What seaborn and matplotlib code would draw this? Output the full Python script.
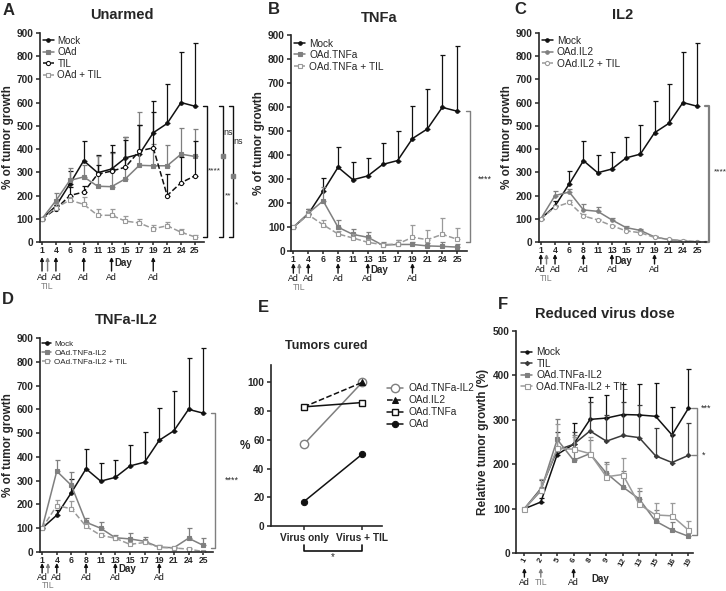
import numpy as np
import matplotlib
matplotlib.use("Agg")
import matplotlib.pyplot as plt
import seaborn as sns

sns.set_style("ticks")
plt.rcParams["font.family"] = ["Liberation Sans", "DejaVu Sans"]

# ---- data ----
days = [1, 4, 6, 8, 11, 13, 15, 17, 19, 21, 24, 25]
mock_mean = [100, 155, 250, 350, 298, 314, 362, 378, 470, 510, 600, 584]
mock_top = [100, 176, 305, 435, 373, 387, 452, 503, 605, 678, 817, 857]

oad_mean = [100, 178, 265, 280, 240, 238, 272, 330, 328, 328, 378, 368]
oad_top = [100, 210, 320, 330, 370, 385, 450, 560, 420, 418, 490, 485]
til_mean = [100, 142, 200, 215, 292, 305, 322, 392, 405, 200, 255, 285]
til_top = [100, 160, 235, 240, 330, 418, 440, 505, 560, 292, 367, 435]
oadtil_mean = [100, 148, 180, 162, 115, 115, 90, 82, 57, 70, 42, 22]
oadtil_top = [100, 165, 195, 195, 140, 140, 112, 98, 72, 85, 55, 30]

tnfa_mean = [100, 158, 210, 100, 70, 58, 25, 28, 28, 22, 20, 17]
tnfa_top = [100, 178, 268, 128, 92, 80, 40, 45, 40, 35, 38, 32]
tnfatil_mean = [100, 152, 110, 72, 55, 37, 27, 30, 58, 48, 70, 50]
tnfatil_top = [100, 168, 128, 85, 70, 50, 35, 45, 110, 88, 138, 98]

il2_mean = [100, 200, 215, 138, 132, 95, 62, 50, 22, 10, 5, 0]
il2_top = [100, 220, 228, 165, 152, 105, 70, 58, 28, 15, 8, 2]
il2til_mean = [100, 150, 170, 112, 95, 70, 48, 40, 20, 12, 5, 2]
il2til_top = [100, 160, 180, 120, 100, 75, 52, 45, 25, 15, 8, 4]

combo_mean = [100, 340, 280, 125, 100, 60, 55, 45, 20, 18, 58, 28]
combo_top = [100, 385, 335, 145, 125, 72, 82, 65, 28, 22, 100, 58]
combotil_mean = [100, 195, 182, 108, 70, 58, 32, 40, 20, 17, 12, 2]
combotil_top = [100, 220, 215, 120, 78, 65, 36, 48, 25, 22, 15, 5]

groups = ["Virus only", "Virus + TIL"]
cured_combo = [57, 100]
cured_il2 = [83, 100]
cured_tnfa = [83, 86]
cured_oad = [17, 50]

f_days = [1, 2, 5, 6, 8, 9, 12, 13, 15, 16, 19]
f_mock_mean = [100, 115, 222, 245, 301, 304, 312, 311, 308, 266, 326]
f_mock_top = [100, 125, 240, 292, 352, 356, 380, 380, 382, 330, 414]
f_til_mean = [100, 145, 232, 245, 275, 252, 265, 260, 219, 204, 220]
f_til_top = [100, 165, 272, 272, 340, 310, 340, 333, 282, 268, 293]
f_combo_mean = [100, 140, 256, 209, 224, 180, 149, 122, 72, 52, 38]
f_combo_top = [100, 150, 303, 265, 255, 205, 185, 140, 97, 70, 48]
f_combotil_mean = [100, 143, 236, 234, 224, 172, 177, 110, 86, 84, 52]
f_combotil_top = [100, 168, 290, 262, 262, 200, 215, 147, 112, 112, 72]

BLACK = "#111111"
GRAY = "#7f7f7f"
LGRAY = "#9a9a9a"
H = 591.0

fig = plt.figure(figsize=(7.26, 5.91), dpi=100)


def style_axes(ax):
    sns.despine(ax=ax)
    for s in ("left", "bottom"):
        ax.spines[s].set_linewidth(1.2)
    ax.tick_params(axis="y", width=1.1, length=3, pad=1.5)
    ax.tick_params(axis="x", width=1.1, length=2, pad=0.8)
    for t in ax.get_yticklabels() + ax.get_xticklabels():
        t.set_fontweight("bold")


def series(ax, x, mean, top, label, color, ls="-", marker="s", mfc=None, ms=3.2):
    mean = np.asarray(mean, float)
    top = np.asarray(top, float)
    ax.errorbar(x, mean, yerr=[np.zeros_like(mean), top - mean], fmt="none",
                ecolor=color, elinewidth=0.9, capsize=1.8, capthick=0.9)
    sns.lineplot(x=x, y=mean, ax=ax, color=color, linestyle=ls, linewidth=1.1,
                 marker=marker, markersize=ms, markeredgewidth=0.8,
                 markerfacecolor=color if mfc is None else mfc,
                 markeredgecolor=color, label=label)


def arrow(ax, xpos, label, color, tip, tail, text_px):
    # offsets are pixels below the x axis
    hpx = ax.get_position().height * H
    tr = ax.get_xaxis_transform()
    ax.annotate("", xy=(xpos, -tip / hpx), xytext=(xpos, -tail / hpx),
                xycoords=tr, textcoords=tr, annotation_clip=False,
                arrowprops=dict(arrowstyle="-|>", color=color, lw=1.0,
                                mutation_scale=5, shrinkA=0, shrinkB=0))
    ax.text(xpos, -text_px / hpx, label, transform=tr, ha="center",
            va="center", fontsize=6.3, color=color)


def day_label(ax, xpos, px, ha="left"):
    hpx = ax.get_position().height * H
    ax.text(xpos, -px / hpx, "Day", transform=ax.get_xaxis_transform(),
            fontsize=7, fontweight="bold", va="center", ha=ha)


def growth_axes(rect, title, lines, legend_fs=7, offs=(12, 22, 27, 36), day_px=19):
    ax = fig.add_axes(rect)
    x = np.arange(len(days))
    for args in lines:
        series(ax, x, *args)
    ax.set_xlim(-0.15, 11.65)
    ax.set_ylim(0, 900)
    ax.set_yticks(range(0, 901, 100))
    ax.set_xticks(x)
    ax.set_xticklabels([str(d) for d in days], fontsize=6.2)
    ax.tick_params(axis="y", labelsize=7.3)
    ax.set_xlabel("")
    ax.set_ylabel("% of tumor growth", fontsize=8.5, fontweight="bold", labelpad=2)
    ax.set_title(title, fontsize=10.5, fontweight="bold", pad=10)
    ax.legend(loc="upper left", frameon=False, fontsize=legend_fs,
              handlelength=1.1, handletextpad=0.4, labelspacing=0.15,
              borderaxespad=0.1, borderpad=0.2)
    style_axes(ax)
    tip, tail, ad_y, til_y = offs
    for i in (0, 1, 3, 5, 8):
        arrow(ax, i, "Ad", BLACK, tip, tail, ad_y)
    arrow(ax, 0.4, "TIL", GRAY, tip, tail, til_y)
    day_label(ax, 5.2, day_px)
    return ax


def bracket(ax, xf, y0, y1, color=BLACK, mids=(), lw=1.0):
    tr = ax.get_yaxis_transform()
    w = 0.025
    ax.plot([xf - w, xf, xf, xf - w], [y0, y0, y1, y1], color=color, lw=lw,
            transform=tr, clip_on=False)
    for m in mids:
        ax.plot([xf], [m], marker="s", ms=2.2, color=GRAY, transform=tr,
                clip_on=False)


def star(ax, xf, y, s, fs=6.5):
    ax.text(xf, y, s, transform=ax.get_yaxis_transform(), fontsize=fs,
            va="center", ha="left")


# ---- A ----
axA = growth_axes([0.055, 0.5905, 0.226, 0.354], "Unarmed", [
    (mock_mean, mock_top, "Mock", BLACK, "-", "o", None, 2.5),
    (oad_mean, oad_top, "OAd", GRAY, "-", "s", None, 2.8),
    (til_mean, til_top, "TIL", BLACK, "--", "o", "white", 3.0),
    (oadtil_mean, oadtil_top, "OAd + TIL", LGRAY, "--", "s", "white", 3.0),
], offs=(15, 29, 35, 44), day_px=21)
bracket(axA, 1.018, mock_mean[-1], oadtil_mean[-1])
bracket(axA, 1.116, mock_mean[-1], oadtil_mean[-1], mids=[oad_mean[-1]])
bracket(axA, 1.177, mock_mean[-1], oadtil_mean[-1], mids=[til_mean[-1]])
star(axA, 1.025, 305, "****", fs=6)
star(axA, 1.12, 470, "ns", fs=6.5)
star(axA, 1.125, 197, "**", fs=6)
star(axA, 1.182, 433, "ns", fs=6.5)
star(axA, 1.19, 161, "*", fs=6)

# ---- B ----
axB = growth_axes([0.401, 0.575, 0.242, 0.365], "TNFa", [
    (mock_mean, mock_top, "Mock", BLACK, "-", "o", None, 2.5),
    (tnfa_mean, tnfa_top, "OAd.TNFa", GRAY, "-", "s", None, 2.5),
    (tnfatil_mean, tnfatil_top, "OAd.TNFa + TIL", LGRAY, "--", "s", "white", 3.0),
], legend_fs=7.3)
bracket(axB, 1.02, mock_mean[-1], 38, color=GRAY)
star(axB, 1.06, 300, "****")

# ---- C ----
axC = growth_axes([0.742, 0.5905, 0.231, 0.354], "IL2", [
    (mock_mean, mock_top, "Mock", BLACK, "-", "o", None, 2.5),
    (il2_mean, il2_top, "OAd.IL2", GRAY, "-", "o", None, 2.5),
    (il2til_mean, il2til_top, "OAd.IL2 + TIL", LGRAY, "--", "o", "white", 3.0),
], legend_fs=7.3)
bracket(axC, 1.015, mock_mean[-1], il2_mean[-1], color=GRAY, lw=1.6)
star(axC, 1.043, 300, "****", fs=6)

# ---- D ----
axD = growth_axes([0.055, 0.066, 0.238, 0.362], "TNFa-IL2", [
    (mock_mean, mock_top, "Mock", BLACK, "-", "o", None, 2.5),
    (combo_mean, combo_top, "OAd.TNFa-IL2", GRAY, "-", "s", None, 2.8),
    (combotil_mean, combotil_top, "OAd.TNFa-IL2 + TIL", LGRAY, "--", "s", "white", 3.0),
], legend_fs=5.8, offs=(11, 21, 26, 34), day_px=17)
bracket(axD, 1.015, mock_mean[-1], 15, color=GRAY)
star(axD, 1.07, 300, "****")

# ---- E ----
axE = fig.add_axes([0.373, 0.110, 0.153, 0.272])
xe = np.arange(len(groups))
sns.lineplot(x=xe, y=cured_combo, ax=axE, color=GRAY, marker="o", markersize=6,
             markerfacecolor="white", markeredgecolor=GRAY, markeredgewidth=1,
             linewidth=1.1, label="OAd.TNFa-IL2")
sns.lineplot(x=xe, y=cured_il2, ax=axE, color=BLACK, linestyle="--", marker="^",
             markersize=4.5, markeredgecolor=BLACK, linewidth=1.1, label="OAd.IL2")
sns.lineplot(x=xe, y=cured_tnfa, ax=axE, color=BLACK, marker="s", markersize=5,
             markerfacecolor="white", markeredgecolor=BLACK, markeredgewidth=1,
             linewidth=1.1, label="OAd.TNFa")
sns.lineplot(x=xe, y=cured_oad, ax=axE, color=BLACK, marker="o", markersize=4.5,
             markeredgecolor=BLACK, linewidth=1.1, label="OAd")
axE.set_xlim(-0.57, 1.34)
axE.set_ylim(0, 112)
axE.set_yticks(range(0, 101, 20))
axE.set_xticks(xe)
axE.set_xticklabels(groups, fontsize=7.3)
axE.tick_params(axis="y", labelsize=7.3)
axE.set_ylabel("%", fontsize=8.5, fontweight="bold", rotation=0, labelpad=2, va="center")
axE.set_title("Tumors cured", fontsize=9, fontweight="bold", pad=12)
axE.legend(loc="upper left", bbox_to_anchor=(1.0, 0.92), frameon=False, fontsize=7.3,
           handlelength=1.6, handletextpad=0.5, labelspacing=0.2, borderaxespad=0.1)
style_axes(axE)
axE.tick_params(axis="x", length=3, pad=2)
trE = axE.get_xaxis_transform()
axE.plot([0, 0, 1, 1], [-0.12, -0.155, -0.155, -0.12], color=BLACK, lw=1.2,
         transform=trE, clip_on=False)
axE.text(0.5, -0.16, "*", transform=trE, ha="center", va="top", fontsize=7)

# ---- F ----
axF = fig.add_axes([0.711, 0.064, 0.244, 0.376])
xf = np.arange(len(f_days))
series(axF, xf, f_mock_mean, f_mock_top, "Mock", BLACK, "-", "o", None, 2.3)
series(axF, xf, f_til_mean, f_til_top, "TIL", "#3a3a3a", "-", "D", None, 2.2)
series(axF, xf, f_combo_mean, f_combo_top, "OAd.TNFa-IL2", GRAY, "-", "s", None, 3.0)
series(axF, xf, f_combotil_mean, f_combotil_top, "OAd.TNFa-IL2 + TIL", LGRAY, "-", "s", "white", 3.6)
axF.set_xlim(-0.5, 10.3)
axF.set_ylim(0, 500)
axF.set_yticks(range(0, 501, 100))
axF.set_xticks(xf)
axF.set_xticklabels([str(d) for d in f_days], fontsize=5.8, rotation=60,
                    ha="center", va="top")
axF.tick_params(axis="y", labelsize=7.3)
axF.set_ylabel("Relative tumor growth (%)", fontsize=8.5, fontweight="bold", labelpad=3)
axF.set_title("Reduced virus dose", fontsize=10.5, fontweight="bold", pad=9)
axF.legend(loc="upper left", bbox_to_anchor=(0.0, 0.95), frameon=False, fontsize=7.3,
           handlelength=1.1, handletextpad=0.4, labelspacing=0.15, borderaxespad=0.1)
style_axes(axF)
for i in (0, 3):
    arrow(axF, i, "Ad", BLACK, 15, 24, 29)
arrow(axF, 1, "TIL", GRAY, 15, 24, 29)
day_label(axF, 4.6, 26, ha="center")
bracket(axF, 1.02, f_mock_mean[-1], 42, color=GRAY)
axF.plot([1.02 - 0.025, 1.02], [f_til_mean[-1]] * 2, color=GRAY, lw=1.0,
         transform=axF.get_yaxis_transform(), clip_on=False)
star(axF, 1.04, f_mock_mean[-1], "***")
star(axF, 1.05, f_til_mean[-1], "*")

# ---- panel letters ----
for lab, (px, py) in {"A": (3, 3), "B": (268, 2), "C": (514, 2), "D": (2, 292),
                      "E": (258, 300), "F": (498, 297)}.items():
    fig.text(px / 726, 1 - py / H, lab, fontsize=12, fontweight="bold", va="top")

fig.savefig("out.png", dpi=100)
